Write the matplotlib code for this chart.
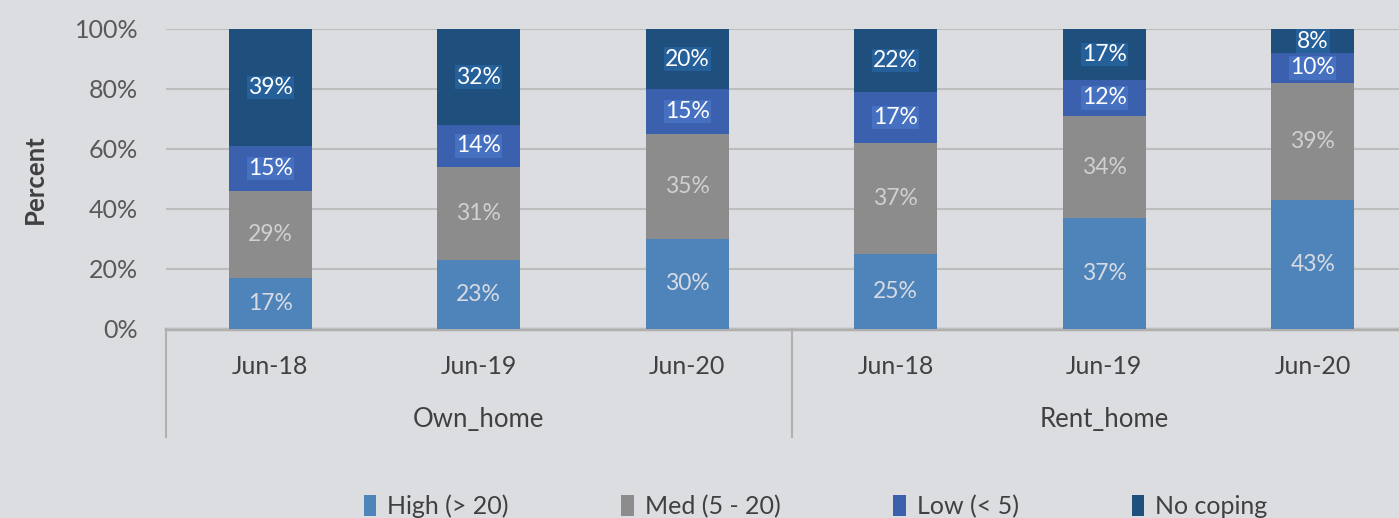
import numpy as np
import matplotlib.pyplot as plt
from matplotlib.patches import Patch

plt.rcParams['font.family'] = ['Lato', 'DejaVu Sans']

# Datos
periods = ['Jun-18', 'Jun-19', 'Jun-20', 'Jun-18', 'Jun-19', 'Jun-20']
groups = ['Own_home', 'Rent_home']
series = ['High (> 20)', 'Med (5 - 20)', 'Low (< 5)', 'No coping']
high = [17, 23, 30, 25, 37, 43]
med = [29, 31, 35, 37, 34, 39]
low = [15, 14, 15, 17, 12, 10]
no_coping = [39, 32, 20, 22, 17, 8]

colors = ['#4f84bb', '#8c8c8c', '#3b61ae', '#1f4f7d']
label_colors = ['#d6dbe3', '#d0d0d0', 'white', 'white']
label_boxes = [None, None, '#4670c0', '#26609a']

bg = '#dcdde0'
fig = plt.figure(figsize=(13.99, 5.18), dpi=100, facecolor=bg)
ax = fig.add_axes([166 / 1399, 189 / 518, 1251 / 1399, 300 / 518])
ax.set_facecolor(bg)

x = np.arange(len(periods))
width = 0.40
bottom = np.zeros(len(periods))
for vals, name, col, lc, box in zip([high, med, low, no_coping], series, colors,
                                     label_colors, label_boxes):
    vals = np.array(vals, dtype=float)
    ax.bar(x, vals, width, bottom=bottom, color=col, label=name, zorder=2)
    for xi, b, v in zip(x, bottom, vals):
        yc = min(b + v / 2, (b + 100) / 2)
        kw = {}
        if box:
            kw['bbox'] = dict(boxstyle='square,pad=0.05', fc=box, ec='none')
        ax.text(xi, yc, f'{int(v)}%', ha='center', va='center', fontsize=16.5,
                color=lc, zorder=3, **kw)
    bottom += vals

ax.set_xlim(-0.5, 5.5)
ax.set_ylim(0, 100)
ax.set_yticks(range(0, 101, 20))
ax.set_yticklabels([f'{v}%' for v in range(0, 101, 20)], fontsize=18, color='#595959')
ax.set_xticks(x)
ax.set_xticklabels(periods, fontsize=18, color='#404040')
ax.tick_params(axis='both', length=0)
ax.tick_params(axis='x', pad=19)
ax.tick_params(axis='y', pad=20)
for s in ax.spines.values():
    s.set_visible(False)
ax.grid(axis='y', color='#bdbdbd', linewidth=1.5, zorder=0)
ax.axhline(0, color='#b0b0b0', linewidth=2.5, zorder=1, clip_on=False)

# Separadores de grupos
trans = ax.get_xaxis_transform()
for xs in [-0.5, 2.5, 5.5]:
    ax.plot([xs, xs], [0, -0.36], transform=trans, color='#b0b0b0',
            linewidth=1.5, clip_on=False)
for gi, g in enumerate(groups):
    ax.text(gi * 3 + 1, -0.303, g, transform=trans, ha='center', va='center',
            fontsize=18.5, color='#404040')

ax.set_ylabel('Percent', fontsize=18.5, fontweight='bold', color='#404040', labelpad=20)

handles = [Patch(facecolor=c, edgecolor='none') for c in colors]
fig.legend(handles, series, loc='center left', bbox_to_anchor=(341 / 1399, 0.022), ncol=4,
           frameon=False, fontsize=18, handlelength=0.5, handleheight=0.9,
           handletextpad=0.45, columnspacing=4.5, labelcolor='#404040')

plt.savefig('out.png', dpi=100, facecolor=bg)
